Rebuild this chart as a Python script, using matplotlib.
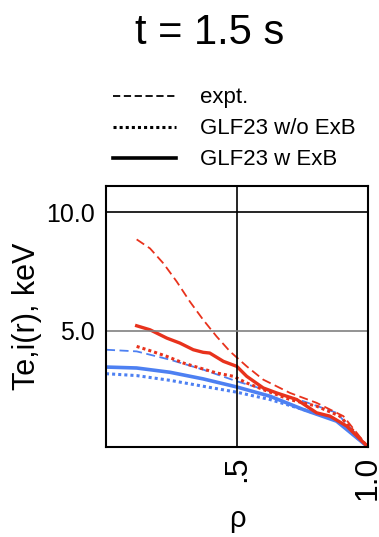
import matplotlib
matplotlib.use("Agg")
import matplotlib.pyplot as plt
from matplotlib.lines import Line2D

plt.rcParams['font.family'] = ['Liberation Sans', 'DejaVu Sans']

# electron temperature (red)
te_expt_x = [0.117, 0.168, 0.219, 0.27, 0.32, 0.371, 0.422, 0.473, 0.537, 0.6, 0.702, 0.804, 0.906, 1.0]
te_expt_y = [8.85, 8.47, 7.84, 7.07, 6.23, 5.46, 4.76, 4.13, 3.50, 2.94, 2.38, 1.96, 1.40, 0.1]
te_noexb_x = [0.117, 0.168, 0.232, 0.295, 0.358, 0.422, 0.486, 0.537, 0.6, 0.702, 0.804, 0.893, 1.0]
te_noexb_y = [4.34, 4.16, 3.92, 3.64, 3.43, 3.22, 3.08, 2.80, 2.52, 2.10, 1.82, 1.40, 0.1]
te_exb_x = [0.117, 0.168, 0.232, 0.282, 0.333, 0.371, 0.396, 0.448, 0.499, 0.537, 0.6, 0.651,
            0.728, 0.804, 0.855, 0.919, 1.0]
te_exb_y = [5.21, 5.04, 4.69, 4.48, 4.20, 4.09, 4.06, 3.71, 3.50, 3.08, 2.59, 2.38,
            2.10, 1.54, 1.40, 0.98, 0.1]

# ion temperature (blue)
ti_x = [0.0, 0.117, 0.244, 0.371, 0.499, 0.626, 0.753, 0.88, 1.0]
ti_expt_y = [4.20, 4.13, 3.78, 3.36, 2.87, 2.45, 2.03, 1.54, 0.1]
ti_noexb_y = [3.19, 3.11, 2.91, 2.66, 2.41, 2.10, 1.68, 1.23, 0.1]
ti_exb_y = [3.47, 3.43, 3.25, 2.97, 2.63, 2.24, 1.68, 1.19, 0.1]

x_ticks = [0.5, 1.0]
x_ticklabels = ['.5', '1.0']
y_ticks = [5.0, 10.0]
y_ticklabels = ['5.0', '10.0']

red = '#e8321c'
blue = '#4d80f2'

fig = plt.figure(figsize=(3.79, 5.37), dpi=100)
ax = fig.add_axes([0.2797, 0.1676, 0.6913, 0.486])

ax.plot(ti_x, ti_expt_y, color=blue, lw=1.3, ls=(0, (5, 2.5)))
ax.plot(ti_x, ti_noexb_y, color=blue, lw=2.2, ls=(0, (1, 1)))
ax.plot(ti_x, ti_exb_y, color=blue, lw=2.6)
ax.plot(te_expt_x, te_expt_y, color=red, lw=1.3, ls=(0, (5, 2.5)))
ax.plot(te_noexb_x, te_noexb_y, color=red, lw=2.2, ls=(0, (1, 1)))
ax.plot(te_exb_x, te_exb_y, color=red, lw=2.4)

ax.set_xlim(0, 1.0)
ax.set_ylim(0.1, 11.1)
ax.set_xticks(x_ticks)
ax.set_xticklabels(x_ticklabels, rotation=90, fontsize=23)
ax.set_yticks(y_ticks)
ax.set_yticklabels(y_ticklabels, fontsize=18)
ax.tick_params(axis='y', length=0, pad=8)
ax.tick_params(axis='x', length=0, pad=6)
ax.axvline(0.5, color='black', lw=1.2)
ax.axhline(10.0, color='black', lw=1.2)
ax.axhline(5.0, color='gray', lw=1.2)
for s in ax.spines.values():
    s.set_linewidth(1.5)

ax.set_ylabel('Te,i(r), keV', fontsize=22, labelpad=3)
ax.set_xlabel('ρ', fontsize=21, labelpad=4)
fig.text(0.554, 0.938, 't = 1.5 s', fontsize=30, ha='center', va='center')

handles = [Line2D([], [], color='black', lw=1.3, ls=(0, (4, 2))),
           Line2D([], [], color='black', lw=2.2, ls=(0, (1, 1))),
           Line2D([], [], color='black', lw=2.6)]
labels = ['expt.', 'GLF23 w/o ExB', 'GLF23 w ExB']
fig.legend(handles, labels, loc='upper left', bbox_to_anchor=(0.27, 0.858),
           frameon=False, fontsize=16, handlelength=2.8, handletextpad=1.1,
           labelspacing=0.45, borderpad=0)

fig.savefig('out.png', dpi=100)
